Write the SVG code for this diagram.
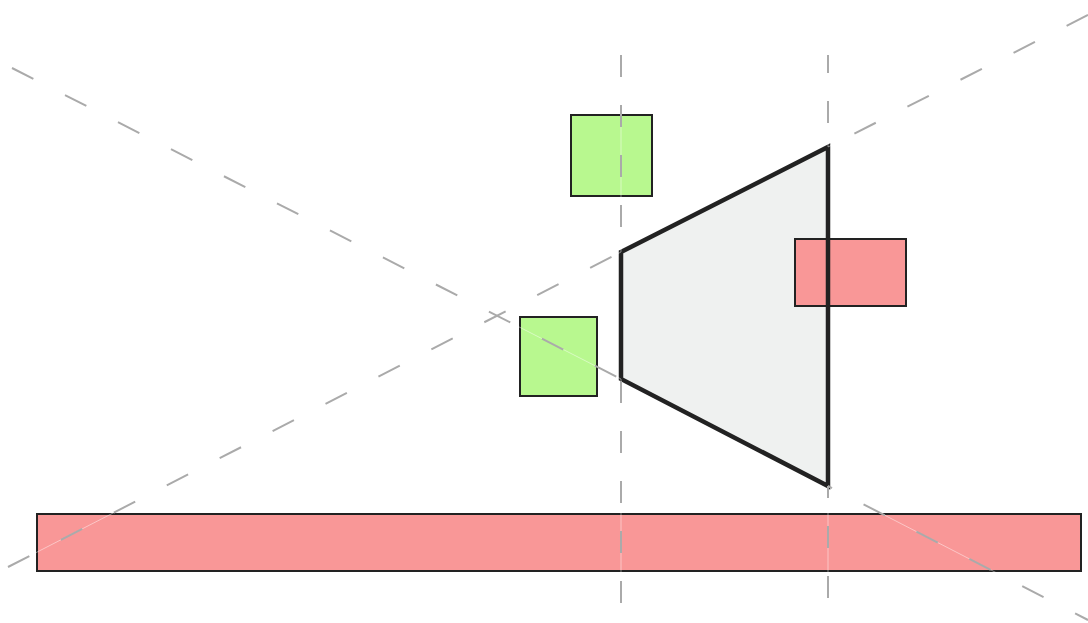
<svg xmlns="http://www.w3.org/2000/svg" width="1088" height="623" viewBox="0 0 1088 623">
  <style>
    .green { fill: #b8f88f; stroke: #222222; stroke-width: 2; }
    .red { fill: #f99797; stroke: #222222; stroke-width: 2; }
    .frustum-fill { fill: #eff1f0; stroke: none; }
    .frustum-edge { fill: none; stroke: #222222; stroke-width: 4.5; stroke-linejoin: miter; }
    .guide { fill: none; stroke: #aaaaaa; stroke-width: 2; stroke-dasharray: 22 28; }
    .guide.diag { stroke-dasharray: 24 35.5; }
    .guide-core { fill: none; stroke: #ffffff; stroke-opacity: 0.45; stroke-width: 1; }
  </style>

  <rect width="1088" height="623" fill="#ffffff"/>

  <!-- frustum body (outline drawn later, above the boxes) -->
  <g id="frustum">
    <polygon class="frustum-fill" points="621,252 828,147 828,486 621,379"/>
  </g>

  <g id="box-top">
    <rect class="green" x="571" y="115" width="81" height="81"/>
  </g>
  <g id="box-left">
    <rect class="green" x="520" y="317" width="77" height="79"/>
  </g>
  <g id="box-right">
    <rect class="red" x="795" y="239" width="111" height="67"/>
  </g>
  <g id="floor">
    <rect class="red" x="37" y="514" width="1044" height="57"/>
  </g>

  <g id="frustum-outline">
    <polygon class="frustum-edge" points="621,252 828,147 828,486 621,379"/>
  </g>

  <!-- construction lines -->
  <g id="connectors">
    <g class="guide-core">
      <line x1="12" y1="68" x2="621" y2="379"/>
      <line x1="828" y1="486" x2="1088" y2="620"/>
      <line x1="8" y1="567" x2="621" y2="252"/>
      <line x1="828" y1="147" x2="1088" y2="15"/>
      <line x1="621" y1="55" x2="621" y2="252"/>
      <line x1="621" y1="379" x2="621" y2="603"/>
      <line x1="828" y1="55" x2="828" y2="147"/>
      <line x1="828" y1="486" x2="828" y2="598"/>
    </g>
    <g>
      <line class="guide diag" x1="12" y1="68" x2="621" y2="379"/>
      <line class="guide diag" x1="828" y1="486" x2="1088" y2="620" stroke-dashoffset="-40"/>
      <line class="guide diag" x1="8" y1="567" x2="621" y2="252"/>
      <line class="guide diag" x1="1088" y1="15" x2="828" y2="147"/>
      <line class="guide" x1="621" y1="55" x2="621" y2="252"/>
      <line class="guide" x1="621" y1="603" x2="621" y2="379"/>
      <line class="guide" x1="828" y1="55" x2="828" y2="147" stroke-dashoffset="4"/>
      <line class="guide" x1="828" y1="598" x2="828" y2="486"/>
    </g>
  </g>
</svg>
